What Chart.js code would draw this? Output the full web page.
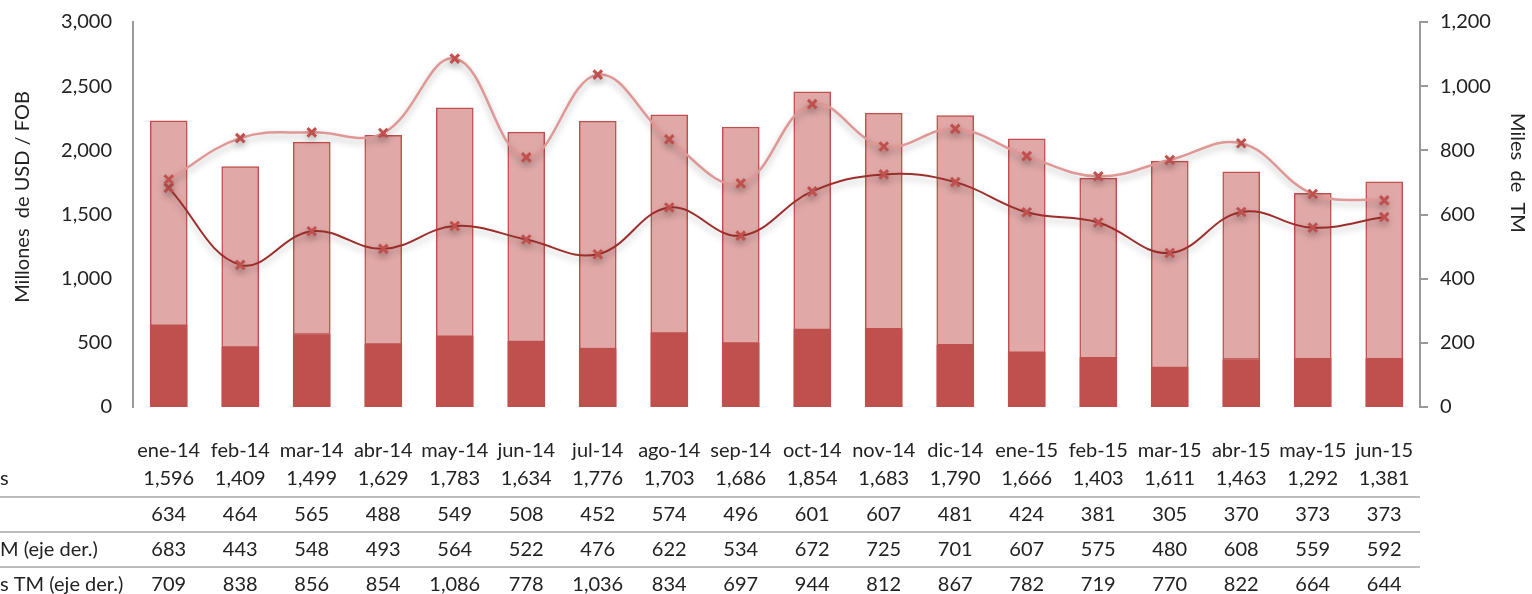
<!DOCTYPE html>
<html lang="es">
<head>
  <meta charset="UTF-8">
  <title>Exportaciones</title>
  <script src="https://cdn.jsdelivr.net/npm/chart.js"></script>
  <style>
    html, body { margin: 0; padding: 0; background: #fff; }
    #wrap { width: 1532px; height: 594px; position: relative; }
  </style>
</head>
<body>
  <div id="wrap"><canvas id="chart"></canvas></div>

  <script>
    // data
    const categories = ['ene-14','feb-14','mar-14','abr-14','may-14','jun-14','jul-14','ago-14','sep-14',
                        'oct-14','nov-14','dic-14','ene-15','feb-15','mar-15','abr-15','may-15','jun-15'];
    const valorTop = [1596,1409,1499,1629,1783,1634,1776,1703,1686,1854,1683,1790,1666,1403,1611,1463,1292,1381];
    const valorBase = [634,464,565,488,549,508,452,574,496,601,607,481,424,381,305,370,373,373];
    const volumenA = [683,443,548,493,564,522,476,622,534,672,725,701,607,575,480,608,559,592];
    const volumenB = [709,838,856,854,1086,778,1036,834,697,944,812,867,782,719,770,822,664,644];
    // row labels as far as they are visible (cut at the left edge)
    const rowLabels = ['s', '', 'M (eje der.)', 's TM (eje der.)'];
    const leftTitle = 'Millones  de USD / FOB';
    const rightTitle = 'Miles  de  TM';

    const FONT = 'Lato, "Open Sans", sans-serif';
    const TXT = '#222';

    const fmt = v => v.toLocaleString('en-US');

    // line shadow like the original
    const shadowPlugin = {
      id: 'shadow',
      beforeDatasetDraw(chart, args) {
        if (args.meta.type !== 'line') return;
        const ctx = chart.ctx;
        ctx.save();
        ctx.shadowColor = 'rgba(0,0,0,0.28)';
        ctx.shadowBlur = 7;
        ctx.shadowOffsetY = 4;
      },
      afterDatasetDraw(chart, args) {
        if (args.meta.type !== 'line') return;
        chart.ctx.restore();
      }
    };

    // data table under the plot + axis titles
    const tablePlugin = {
      id: 'table',
      afterDraw(chart) {
        const ctx = chart.ctx;
        const x = chart.scales.x;
        const rows = [valorTop, valorBase, volumenA, volumenB];
        const rowY = [479, 515, 550, 585];
        const sepY = [497, 532, 567];

        ctx.save();
        ctx.strokeStyle = '#a6a6a6';
        ctx.lineWidth = 1.5;
        sepY.forEach(y => {
          ctx.beginPath();
          ctx.moveTo(0, y);
          ctx.lineTo(chart.chartArea.right, y);
          ctx.stroke();
        });

        ctx.font = '20px ' + FONT;
        ctx.fillStyle = TXT;
        ctx.textBaseline = 'middle';
        ctx.textAlign = 'center';
        rows.forEach((r, ri) => {
          r.forEach((v, i) => ctx.fillText(fmt(v), x.getPixelForValue(i), rowY[ri]));
        });
        ctx.textAlign = 'left';
        rowLabels.forEach((t, ri) => ctx.fillText(t, 0, rowY[ri]));

        // axis titles
        ctx.save();
        ctx.translate(23, 197);
        ctx.rotate(-Math.PI / 2);
        ctx.textAlign = 'center';
        ctx.fillText(leftTitle, 0, 0);
        ctx.restore();

        ctx.save();
        ctx.translate(1517, 173);
        ctx.rotate(Math.PI / 2);
        ctx.textAlign = 'center';
        ctx.fillText(rightTitle, 0, 0);
        ctx.restore();

        ctx.restore();
      }
    };

    const ctx = document.getElementById('chart').getContext('2d');
    new Chart(ctx, {
      data: {
        labels: categories,
        datasets: [
          {
            type: 'bar',
            label: 'Valor base',
            data: valorBase,
            backgroundColor: '#c0504d',
            borderColor: '#c0504d',
            borderWidth: 0,
            stack: 's',
            yAxisID: 'y',
            order: 2
          },
          {
            type: 'bar',
            label: 'Valor',
            data: valorTop,
            backgroundColor: '#e0a9a8',
            borderColor: '#c0504d',
            borderWidth: 1.5,
            borderSkipped: false,
            stack: 's',
            yAxisID: 'y',
            order: 2
          },
          {
            type: 'line',
            label: 'Volumen A TM (eje der.)',
            data: volumenA,
            borderColor: '#9c2f2c',
            borderWidth: 2,
            tension: 0.4,
            pointStyle: 'crossRot',
            pointRadius: 6,
            pointBorderWidth: 3,
            pointBorderColor: '#c0504d',
            yAxisID: 'y2',
            order: 1
          },
          {
            type: 'line',
            label: 'Volumen B TM (eje der.)',
            data: volumenB,
            borderColor: '#e09896',
            borderWidth: 2.5,
            tension: 0.4,
            pointStyle: 'crossRot',
            pointRadius: 6,
            pointBorderWidth: 3,
            pointBorderColor: '#c0504d',
            yAxisID: 'y2',
            order: 0
          }
        ]
      },
      options: {
        responsive: true,
        maintainAspectRatio: false,
        animation: false,
        layout: { padding: { top: 22, bottom: 0, left: 0, right: 0 } },
        plugins: {
          legend: { display: false },
          tooltip: { enabled: false }
        },
        datasets: {
          bar: { barThickness: 37 }
        },
        scales: {
          x: {
            stacked: true,
            offset: true,
            grid: { display: false, drawTicks: false },
            border: { display: false },
            ticks: { color: TXT, font: { family: FONT, size: 20 }, padding: 32, maxRotation: 0, autoSkip: false },
            afterFit(s) { s.height = 187; }
          },
          y: {
            position: 'left',
            stacked: true,
            min: 0,
            max: 3000,
            ticks: { stepSize: 500, color: TXT, font: { family: FONT, size: 20 }, padding: 21 },
            grid: { display: false, drawTicks: false },
            border: { display: true, color: '#9a9a9a', width: 2 },
            afterFit(s) { s.width = 133; s.paddingTop = 0; s.paddingBottom = 0; }
          },
          y2: {
            position: 'right',
            min: 0,
            max: 1200,
            ticks: { stepSize: 200, color: TXT, font: { family: FONT, size: 20 }, padding: 12 },
            grid: { display: true, drawOnChartArea: false, drawTicks: true, tickLength: 8, color: '#9a9a9a', lineWidth: 2 },
            border: { display: true, color: '#9a9a9a', width: 2 },
            afterFit(s) { s.width = 112; s.paddingTop = 0; s.paddingBottom = 0; }
          }
        }
      },
      plugins: [shadowPlugin, tablePlugin]
    });
  </script>
</body>
</html>
